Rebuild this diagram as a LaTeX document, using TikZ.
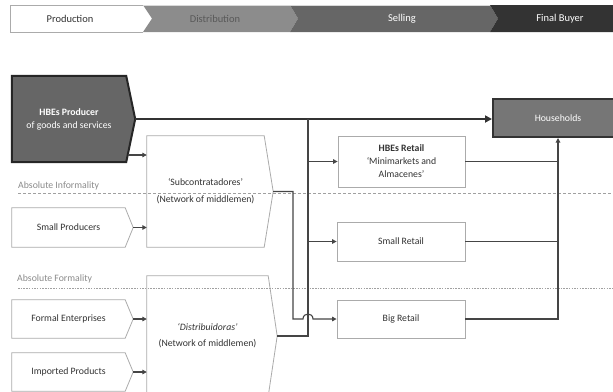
\documentclass[tikz,border=0pt]{standalone}
\usepackage{fontspec}
\setmainfont{Carlito}
\usetikzlibrary{arrows.meta,backgrounds}

\definecolor{boxedge}{HTML}{ABABAB}
\definecolor{wire}{HTML}{454545}
\definecolor{darkfill}{HTML}{666666}
\definecolor{hhfill}{HTML}{767676}
\definecolor{bandA}{HTML}{8C8C8C}
\definecolor{bandB}{HTML}{666666}
\definecolor{bandC}{HTML}{333333}
\definecolor{zoneline}{HTML}{A0A0A0}
\definecolor{zonetext}{HTML}{8A8A8A}
\definecolor{labeltext}{HTML}{333333}

% outline with a pointed right side, drawn behind the node
\newcommand\tipbox[3]{%
  \coordinate (#1-tip) at ([xshift=#2]#1.east);
  \begin{scope}[on background layer]
    \draw[#3] (#1.north west) -- (#1.north east) -- (#1-tip)
      -- (#1.south east) -- (#1.south west) -- cycle;
  \end{scope}}

\begin{document}
\begin{tikzpicture}[x=1bp,y=-1bp,
  lbl/.style={inner sep=0pt,draw=none,align=center,text=labeltext,
    font=\fontsize{9.8}{12}\selectfont},
  band/.style={inner sep=0pt,font=\fontsize{10.5}{12}\selectfont},
  plain/.style={draw=boxedge,line width=0.8bp,fill=white},
  darkbox/.style={draw=black!85,line width=2bp,fill=darkfill},
  wireline/.style={draw=wire,line width=1.1bp},
  arr/.style={-{Triangle[length=4.5bp,width=4.5bp]}},
  mainline/.style={draw=black!80,line width=2.2bp,-{Triangle[length=7bp,width=7bp]}},
  zone/.style={draw=zoneline,line width=0.9bp}]
\useasboundingbox (0,0) rectangle (613,391);

% stage banner
\fill[white] (10,5) -- (143,5) -- (152,18.5) -- (143,32) -- (10,32) -- cycle;
\draw[boxedge,line width=0.8bp] (143,32) -- (10,32) -- (10,5) -- (143,5);
\fill[bandA] (143,5) -- (290,5) -- (298,18.5) -- (290,32) -- (143,32) -- (152,18.5) -- cycle;
\fill[bandB] (290,5) -- (490,5) -- (498,18.5) -- (490,32) -- (290,32) -- (298,18.5) -- cycle;
\fill[bandC] (490,5) -- (613,5) -- (613,32) -- (490,32) -- (498,18.5) -- cycle;
\draw[white!85!black,line width=0.8bp] (143,5.4) -- (490,5.4);
\node[band,text=labeltext] (stp) at (70,18.5) {Production};
\node[band,text=black!65] (std) at (215,18.5) {Distribution};
\node[band,text=white] (sts) at (402,18.5) {Selling};
\node[band,text=white] (stf) at (560,18.5) {Final Buyer};

% producers
\node[lbl,text=white,minimum width=114bp,minimum height=86bp] (prod) at (69,119)
  {\textbf{HBEs Producer}\\[1pt]of goods and services};
\tipbox{prod}{9bp}{darkbox}
\node[lbl,minimum width=113bp,minimum height=39bp] (smp) at (68.5,227.5) {Small Producers};
\tipbox{smp}{8bp}{plain}
\node[lbl,minimum width=113bp,minimum height=38bp] (fe) at (68.5,319) {Formal Enterprises};
\tipbox{fe}{8bp}{plain}
\node[lbl,minimum width=113bp,minimum height=38bp] (imp) at (68.5,372) {Imported Products};
\tipbox{imp}{8bp}{plain}

% middlemen
\node[lbl,minimum width=117bp,minimum height=111bp] (sub) at (205.5,191.5)
  {`Subcontratadores'\\[5pt](Network of middlemen)};
\tipbox{sub}{9bp}{plain}
\node[lbl,minimum width=121bp,minimum height=120bp] (dist) at (207.5,336)
  {\textit{`Distribuidoras'}\\[4pt](Network of middlemen)};
\tipbox{dist}{9bp}{plain}

% retail
\node[lbl,plain,minimum width=127bp,minimum height=51bp] (hbr) at (401.5,161.5)
  {\textbf{HBEs Retail}\\[1pt]`Minimarkets and\\[1pt]Almacenes'};
\node[lbl,plain,minimum width=128bp,minimum height=39bp] (smr) at (401,241.5) {Small Retail};
\node[lbl,plain,minimum width=128bp,minimum height=38bp] (bgr) at (401,319) {Big Retail};

% final buyer
\node[lbl,text=white,draw=black!80,line width=2bp,fill=hhfill,
  minimum width=130bp,minimum height=38bp] (hh) at (558,118) {Households};

% formality zones
\draw[zone,dash pattern=on 3bp off 2bp] (18,193.5) -- (613,193.5);
\draw[zone,dash pattern=on 1.5bp off 1.2bp] (18,288) -- (613,288);
\node[lbl,text=zonetext,anchor=west] (zinf) at (18,186) {Absolute Informality};
\node[lbl,text=zonetext,anchor=west] (zfor) at (17,279) {Absolute Formality};

% flows
\draw[mainline] (prod-tip) -- (prod-tip -| hh.west);
\coordinate (pa) at (128,155);
\draw[wireline,arr] (pa) -- (sub.west |- pa);
\draw[wireline,arr] (smp-tip) -- (smp-tip -| sub.west);
\draw[wireline,arr] (fe-tip) -- (fe-tip -| dist.west);
\draw[wireline,arr] (imp-tip) -- (imp-tip -| dist.west);

\coordinate (j) at (308,119);
\draw[wireline] (dist-tip) -| (j);
\draw[wireline,arr] (j |- hbr.west) -- (hbr.west);
\draw[wireline,arr] (j |- smr.west) -- (smr.west);
\draw[wireline,arr] (sub-tip) -| (293,319) -- (303,319)
  .. controls (303,312.3) and (313,312.3) .. (313,319) -- (bgr.west);

\draw[wireline] (hbr.east) -- (hbr.east -| hh.south);
\draw[wireline] (smr.east) -- (smr.east -| hh.south);
\draw[wireline,arr] (bgr.east) -| (hh.south);
\end{tikzpicture}
\end{document}
